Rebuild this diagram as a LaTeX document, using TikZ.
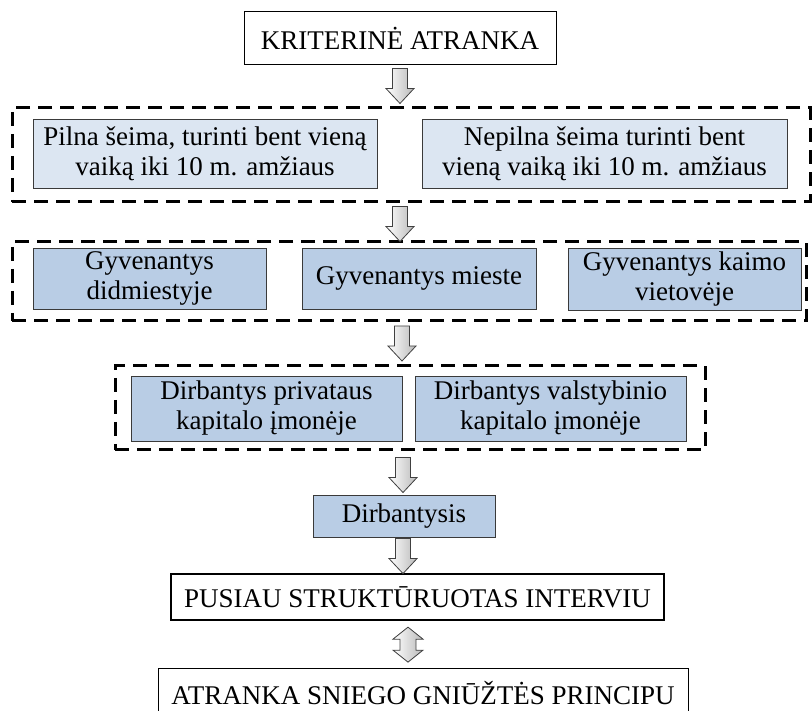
\documentclass[tikz,border=0pt]{standalone}
\usepackage{fontspec}
\setmainfont{Liberation Serif}
\usetikzlibrary{calc}

\definecolor{palebox}{HTML}{DCE6F2}
\definecolor{bluebox}{HTML}{B9CDE5}
\definecolor{edgegray}{HTML}{3A3A3A}

\tikzset{
  txt/.style={font=\fontsize{27}{30}\selectfont, align=center, inner sep=0pt, text=black},
  plainbox/.style={txt, draw=black, line width=1pt, fill=white},
  boldbox/.style={txt, draw=black, line width=2.6pt, fill=white},
  palenode/.style={txt, draw=edgegray, line width=0.9pt, fill=palebox},
  bluenode/.style={txt, draw=edgegray, line width=0.9pt, fill=bluebox},
  group/.style={draw=black, line width=3pt, dash pattern=on 14pt off 8pt, inner sep=0pt},
  arrowfill/.style={draw=gray!50!black, line width=0.8pt, left color=white, right color=gray!55, line join=miter},
  % hollow block arrow pointing down, centred on the pic origin
  downarr/.pic={
    \path[arrowfill] (-7.5,-17.5) -- (7.5,-17.5) -- (7.5,2.5) -- (14,2.5)
      -- (0,17.5) -- (-14,2.5) -- (-7.5,2.5) -- cycle;
  },
  % block arrow with heads at both ends
  updownarr/.pic={
    \path[arrowfill] (0,-17.5) -- (15,-5.5) -- (8,-5.5) -- (8,5.5) -- (15,5.5)
      -- (0,17.5) -- (-15,5.5) -- (-8,5.5) -- (-8,-5.5) -- (-15,-5.5) -- cycle;
  }
}

\begin{document}
\begin{tikzpicture}[x=1pt, y=-1pt]
\useasboundingbox (0,0) rectangle (812,711);

% dashed groups
\node[group, minimum width=798pt, minimum height=94pt] (g1) at (411,155) {};
\node[group, minimum width=794pt, minimum height=79pt] (g2) at (409,281.5) {};
\node[group, minimum width=590pt, minimum height=84pt] (g3) at (410,408) {};

% boxes
\node[plainbox, minimum width=312pt, minimum height=53pt] (krit) at (400,38.5) {KRITERINĖ ATRANKA};

\node[palenode, minimum width=344pt, minimum height=69pt] (pilna) at (205,153.5)
  {Pilna šeima, turinti bent vieną\\vaiką iki 10 m. amžiaus};
\node[palenode, minimum width=365pt, minimum height=69pt] (nepilna) at (604.5,153.5)
  {Nepilna šeima turinti bent\\vieną vaiką iki 10 m. amžiaus};

\node[bluenode, minimum width=233pt, minimum height=61pt] (didm) at (149.5,278.5)
  {Gyvenantys\\didmiestyje};
\node[bluenode, minimum width=234pt, minimum height=61pt] (miest) at (419,278.5)
  {Gyvenantys mieste};
\node[bluenode, minimum width=233pt, minimum height=62pt] (kaimo) at (684.5,279)
  {Gyvenantys kaimo\\vietovėje};

\node[bluenode, minimum width=271pt, minimum height=65pt] (privat) at (266.5,408.5)
  {Dirbantys privataus\\kapitalo įmonėje};
\node[bluenode, minimum width=271pt, minimum height=65pt] (valst) at (550.5,408.5)
  {Dirbantys valstybinio\\kapitalo įmonėje};

\node[bluenode, minimum width=182pt, minimum height=42pt] (dirb) at (404,516) {Dirbantysis};

\node[boldbox, minimum width=493pt, minimum height=46pt] (pusiau) at (417.5,597)
  {PUSIAU STRUKTŪRUOTAS INTERVIU};

\node[plainbox, anchor=north, minimum width=530pt, minimum height=50pt] (sniego) at (423,668)
  {ATRANKA SNIEGO GNIŪŽTĖS PRINCIPU};

% block arrows between the stages
\coordinate (spineA) at (400,0);
\coordinate (spineB) at (402,0);
\coordinate (spineC) at (403,0);
\coordinate (spineD) at (408,0);

\pic at ($(spineA |- krit.south)!.5!(spineA |- g1.north)$) {downarr};
\pic at ($(spineA |- g1.south)!.5!(spineA |- g2.north)+(0,2)$) {downarr};
\pic at ($(spineB |- g2.south)!.5!(spineB |- g3.north)$) {downarr};
\pic at ($(spineC |- g3.south)!.5!(spineC |- dirb.north)+(0,2)$) {downarr};
\pic at ($(spineC |- dirb.south)!.5!(spineC |- pusiau.north)+(0,1)$) {downarr};
\pic at ($(spineD |- pusiau.south)!.5!(spineD |- sniego.north)$) {updownarr};
\end{tikzpicture}
\end{document}
